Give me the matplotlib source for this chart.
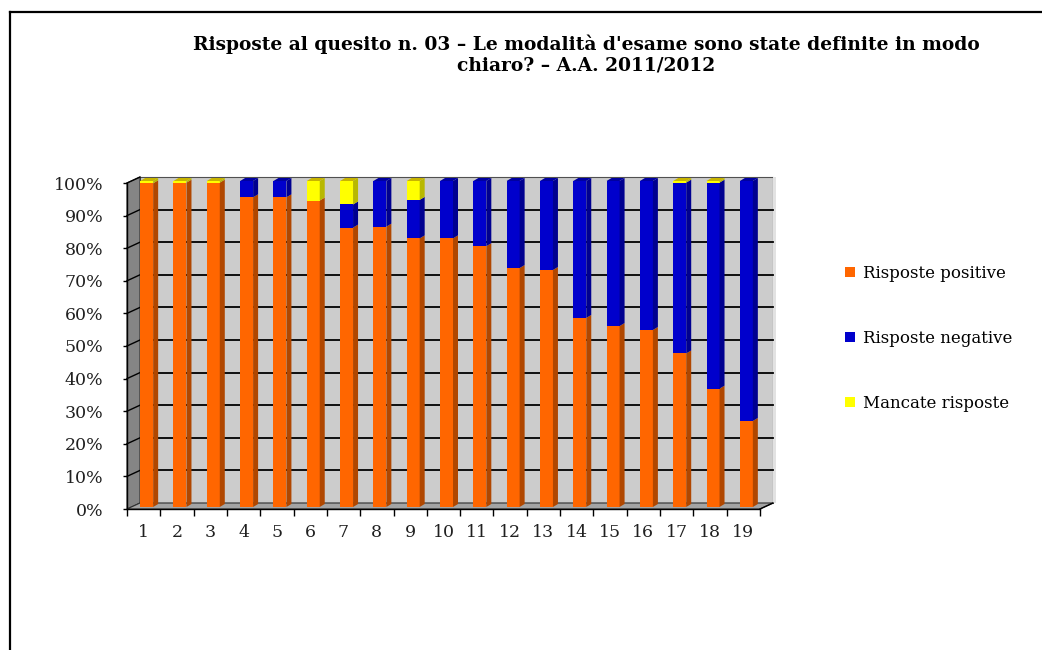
import matplotlib
matplotlib.use("Agg")
import matplotlib.pyplot as plt
from matplotlib.patches import Polygon, Rectangle, Patch
from matplotlib.lines import Line2D
import numpy as np

# ---- data ----
categories = [str(i) for i in range(1, 20)]
positive = [99.3, 99.5, 99.5, 95.0, 95.0, 94.0, 85.7, 86.0, 82.4, 82.4,
            80.0, 73.3, 72.7, 58.0, 55.5, 54.3, 47.1, 36.3, 26.4]
negative = [0.0, 0.0, 0.0, 5.0, 5.0, 0.0, 7.1, 14.0, 11.8, 17.6,
            20.0, 26.7, 27.3, 42.0, 44.5, 45.7, 52.4, 63.2, 73.6]
missing = [0.7, 0.5, 0.5, 0.0, 0.0, 6.0, 7.2, 0.0, 5.8, 0.0,
           0.0, 0.0, 0.0, 0.0, 0.0, 0.0, 0.5, 0.5, 0.0]
series_names = ["Risposte positive", "Risposte negative", "Mancate risposte"]
y_ticks = [0, 10, 20, 30, 40, 50, 60, 70, 80, 90, 100]
y_labels = [f"{v}%" for v in y_ticks]
title_lines = ["Risposte al quesito n. 03 \u2013 Le modalit\u00e0 d'esame sono state definite in modo",
               "chiaro? \u2013 A.A. 2011/2012"]

front_colors = ["#FF6600", "#0000CC", "#FFFF00"]
side_colors = ["#B04700", "#000090", "#B8B800"]
top_colors = ["#D05400", "#0000A0", "#C8B400"]

FONT = "DejaVu Serif"
W, H = 1042, 650
fig = plt.figure(figsize=(W / 100, H / 100), dpi=100)
fig.patch.set_facecolor("white")

# front plane of the 3D plot in pixels
x0p, x1p, y0p, y1p = 127, 760, 509, 183
ax = fig.add_axes([x0p / W, 1 - y0p / H, (x1p - x0p) / W, (y0p - y1p) / H])
ax.set_xlim(0.5, 19.5)
ax.set_ylim(0, 100)
ax.patch.set_alpha(0)

pxx = (x1p - x0p) / 19.0   # px per x unit
pxy = (y0p - y1p) / 100.0  # px per %
DX, DY = 13 / pxx, 6 / pxy          # back-wall depth
FX, FY = 3 / pxx, 2 / pxy           # bar front offset
BX, BY = 5 / pxx, 3 / pxy           # bar depth
BW = 13 / pxx                       # bar width

# back wall
ax.add_patch(Rectangle((0.5 + DX, DY), 19, 100, facecolor="#CCCCCC",
                       edgecolor="#505050", lw=0.8, zorder=0, clip_on=False))
# right shadow strip
ax.add_patch(Rectangle((19.5 + DX, DY), 3 / pxx, 100, facecolor="#E2E2E2",
                       edgecolor="none", zorder=0, clip_on=False))
# left wall
ax.add_patch(Polygon([(0.5, 0), (0.5 + DX, DY), (0.5 + DX, 100 + DY), (0.5, 100)],
                     closed=True, facecolor="#858585", edgecolor="#303030",
                     lw=0.8, zorder=1, clip_on=False))
# floor
ax.add_patch(Polygon([(0.5, 0), (19.5, 0), (19.5 + DX, DY), (0.5 + DX, DY)],
                     closed=True, facecolor="#A4A4A4", edgecolor="#303030",
                     lw=0.8, zorder=1, clip_on=False))
# gridlines on the back wall + diagonals on left wall
for v in y_ticks[1:-1]:
    ax.plot([0.5 + DX, 19.5 + DX], [v + DY, v + DY], color="black", lw=1.3,
            zorder=0.5, clip_on=False)
for v in y_ticks[1:]:
    ax.plot([0.5, 0.5 + DX], [v, v + DY], color="black", lw=1.0, zorder=1.5,
            clip_on=False)

# bars
x = np.arange(1, 20)
stack = [positive, negative, missing]
bottom = np.zeros(19)
tops = np.array(positive) + np.array(negative) + np.array(missing)
for si, vals in enumerate(stack):
    vals = np.array(vals)
    ax.bar(x + FX, vals, width=BW, bottom=bottom + FY, color=front_colors[si],
           edgecolor="none", zorder=3, clip_on=False)
    for i in range(19):
        if vals[i] <= 0:
            continue
        xr = x[i] + FX + BW / 2
        b = bottom[i] + FY
        t = bottom[i] + vals[i] + FY
        ax.add_patch(Polygon([(xr, b), (xr + BX, b + BY), (xr + BX, t + BY), (xr, t)],
                             closed=True, facecolor=side_colors[si], edgecolor="none",
                             zorder=3, clip_on=False))
        if abs(bottom[i] + vals[i] - tops[i]) < 1e-6:
            xl = x[i] + FX - BW / 2
            ax.add_patch(Polygon([(xl, t), (xl + BX, t + BY), (xr + BX, t + BY), (xr, t)],
                                 closed=True, facecolor=top_colors[si], edgecolor="none",
                                 zorder=3, clip_on=False))
    bottom = bottom + vals

# axes lines
for s in ["top", "right"]:
    ax.spines[s].set_visible(False)
for s in ["left", "bottom"]:
    ax.spines[s].set_color("black")
    ax.spines[s].set_linewidth(1.0)
ax.plot([19.5, 19.5 + DX], [0, DY], color="black", lw=1.0, clip_on=False, zorder=2)

ax.set_yticks(y_ticks)
ax.set_yticklabels(y_labels, fontfamily=FONT, fontsize=12.5, color="#202020")
ax.tick_params(axis="y", direction="out", length=3, width=1, pad=14)
ax.set_xticks(x)
ax.set_xticklabels(categories, fontfamily=FONT, fontsize=12.5, color="#202020")
ax.set_xticks(np.arange(0.5, 20.0, 1.0), minor=True)
ax.tick_params(axis="x", which="major", length=0, pad=11)
ax.tick_params(axis="x", which="minor", direction="out", length=5, width=1)

# title
fig.text(586 / W, 1 - 44 / H, title_lines[0], ha="center", va="center",
         fontfamily=FONT, fontweight="bold", fontsize=13.4)
fig.text(586 / W, 1 - 65 / H, title_lines[1], ha="center", va="center",
         fontfamily=FONT, fontweight="bold", fontsize=13.4)

# legend
handles = [Patch(facecolor=c, edgecolor="none") for c in front_colors]
fig.legend(handles, series_names, loc="upper left",
           bbox_to_anchor=(830 / W, 1 - 250 / H), frameon=False,
           prop={"family": FONT, "size": 12}, handlelength=0.6, handleheight=0.6,
           handletextpad=0.5, labelspacing=2.87)

# outer border
fig.add_artist(Line2D([10 / W, 10 / W], [0, 1 - 12 / H], color="black", lw=1.6))
fig.add_artist(Line2D([10 / W, 1], [1 - 12 / H, 1 - 12 / H], color="black", lw=1.6))

fig.savefig("out.png", dpi=100)
